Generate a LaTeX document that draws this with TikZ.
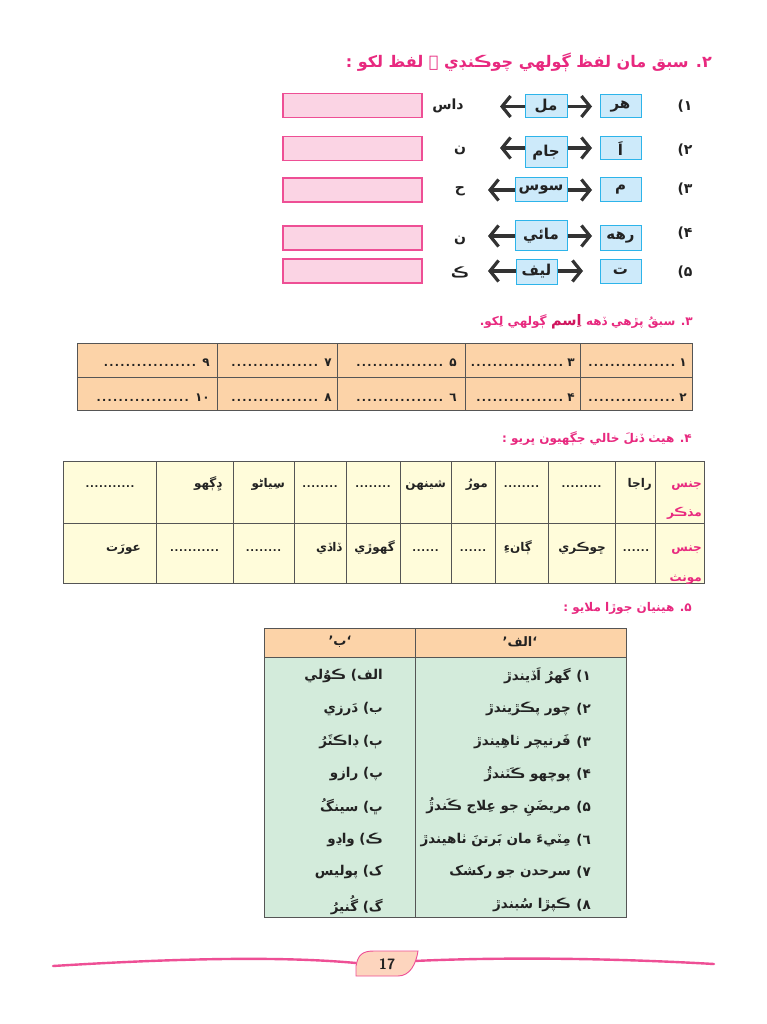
\documentclass[tikz,border=0pt]{standalone}
\usepackage{fontspec}
\usetikzlibrary{arrows.meta}
\TeXXeTstate=1
\newfontfamily\ar[Script=Arabic]{DejaVu Sans}
\newfontfamily\dotfa[LetterSpace=12]{DejaVu Sans Bold}
\newfontfamily\dotfb[LetterSpace=7]{DejaVu Sans Bold}
\newcommand{\rtltext}[1]{\beginR #1\endR}
\definecolor{ttl}{HTML}{E8297F}
\definecolor{ttldark}{HTML}{D0155E}
\definecolor{pinkfill}{HTML}{FBD4E4}
\definecolor{pinkline}{HTML}{EE4F95}
\definecolor{bluefill}{HTML}{CDEAFA}
\definecolor{blueline}{HTML}{2DB4EA}
\definecolor{peach}{HTML}{FCD3A8}
\definecolor{cream}{HTML}{FFFCDA}
\definecolor{mint}{HTML}{D3EBDB}
\definecolor{grid}{HTML}{555555}
\definecolor{ink}{HTML}{222222}
\definecolor{pgfill}{HTML}{FDD5BE}
\begin{document}
\begin{tikzpicture}[x=1pt,y=-1pt,
  ttlbig/.style={font=\ar\bfseries\fontsize{16}{18}\selectfont, text=ttl, anchor=base east, inner sep=0pt},
  ttlsmall/.style={font=\ar\bfseries\fontsize{12}{14}\selectfont, text=ttl, anchor=base east, inner sep=0pt},
  word/.style={font=\ar\bfseries\fontsize{14}{16}\selectfont, text=ink, inner sep=0pt},
  cellw/.style={font=\ar\bfseries\fontsize{12}{14}\selectfont, text=ink, inner sep=0pt, anchor=base east},
  headw/.style={font=\ar\bfseries\fontsize{12}{14}\selectfont, text=ttl, inner sep=0pt, anchor=base east},
  dotsa/.style={font=\dotfa\fontsize{11}{12}\selectfont, text=ink, inner sep=0pt},
  dotsb/.style={font=\dotfb\fontsize{10}{12}\selectfont, text=ink, inner sep=0pt},
  itemw/.style={font=\ar\bfseries\fontsize{13.5}{15}\selectfont, text=ink, inner sep=0pt, anchor=east},
  pinkbox/.style={draw=pinkline, fill=pinkfill, line width=1.2pt, inner sep=0pt, minimum width=139pt, minimum height=24pt},
  bluebox/.style={draw=blueline, fill=bluefill, line width=1pt, inner sep=0pt, text=ink, font=\ar\bfseries\fontsize{15}{17}\selectfont},
  arr/.style={draw=black!80, line width=3.2pt, -{Straight Barb[length=8.5pt,width=21pt]}},
  gridline/.style={draw=grid, line width=0.9pt},
  footline/.style={draw=pinkline, line width=2.4pt, line cap=round}
]
\path[use as bounding box, fill=white] (0,0) rectangle (767,1024);

% ---------- Section 2 ----------
\node[ttlbig] (t2) at (712,68) {\rtltext{۲. سبق مان لفظ ڳولهي چوڪنڊي ۾ لفظ لکو :}};

% row 1
\node[pinkbox] (p1) at (352.5,105.5) {};
\node[word] (l1) at (448,106) {\rtltext{داس}};
\node[bluebox, minimum width=42pt, minimum height=23pt] (m1) at (546,106.5) {\rtltext{مل}};
\node[bluebox, minimum width=41pt, minimum height=23pt] (r1) at (620.5,106.5) {\rtltext{هر}};
\node[word] (n1) at (685,106) {\rtltext{۱)}};
\coordinate (a1l) at (500,106.5); \coordinate (a1r) at (592,106.5);
\draw[arr] (m1.west) -- (a1l); \draw[arr] (m1.east) -- (a1r);

% row 2
\node[pinkbox] (p2) at (352.5,148.5) {};
\node[word] (l2) at (460,150) {\rtltext{ن}};
\node[bluebox, minimum width=42pt, minimum height=31pt] (m2) at (546,152.5) {\rtltext{جام}};
\node[bluebox, minimum width=41pt, minimum height=23pt] (r2) at (620.5,148.5) {\rtltext{اَ}};
\node[word] (n2) at (685,150) {\rtltext{۲)}};
\coordinate (a2l) at (500,148); \coordinate (a2r) at (592,148);
\draw[arr] (m2.west |- a2l) -- (a2l); \draw[arr] (m2.east |- a2r) -- (a2r);

% row 3
\node[pinkbox] (p3) at (352.5,190) {};
\node[word] (l3) at (460,191) {\rtltext{ح}};
\node[bluebox, minimum width=52pt, minimum height=24pt] (m3) at (541,190) {\rtltext{سوس}};
\node[bluebox, minimum width=41pt, minimum height=24pt] (r3) at (620.5,190) {\rtltext{م}};
\node[word] (n3) at (685,189) {\rtltext{۳)}};
\coordinate (a3l) at (488,190); \coordinate (a3r) at (592,190);
\draw[arr] (m3.west) -- (a3l); \draw[arr] (m3.east) -- (a3r);

% row 4
\node[pinkbox] (p4) at (352.5,238) {};
\node[word] (l4) at (460,240) {\rtltext{ن}};
\node[bluebox, minimum width=52pt, minimum height=29pt] (m4) at (541,235.5) {\rtltext{مائي}};
\node[bluebox, minimum width=41pt, minimum height=24pt] (r4) at (620.5,238) {\rtltext{رهه}};
\node[word] (n4) at (685,233) {\rtltext{۴)}};
\coordinate (a4l) at (488,236); \coordinate (a4r) at (592,236);
\draw[arr] (m4.west |- a4l) -- (a4l); \draw[arr] (m4.east |- a4r) -- (a4r);

% row 5
\node[pinkbox] (p5) at (352.5,271) {};
\node[word] (l5) at (460,272) {\rtltext{ڪ}};
\node[bluebox, minimum width=41pt, minimum height=25pt] (m5) at (536.5,271.5) {\rtltext{ليف}};
\node[bluebox, minimum width=41pt, minimum height=24pt] (r5) at (620.5,271) {\rtltext{ت}};
\node[word] (n5) at (685,272) {\rtltext{۵)}};
\coordinate (a5l) at (488,271); \coordinate (a5r) at (583,271);
\draw[arr] (m5.west |- a5l) -- (a5l); \draw[arr] (m5.east |- a5r) -- (a5r);

% ---------- Section 3 ----------
\node[ttlsmall] (t3a) at (693,325) {\rtltext{۳. سبقُ پڙهي ڏهه}};
\node[ttlsmall, text=ttldark, font=\ar\bfseries\fontsize{14.5}{16}\selectfont] (t3b) at ([xshift=-4pt]t3a.base west) {\rtltext{اِسم}};
\node[ttlsmall] (t3c) at ([xshift=-4pt]t3b.base west) {\rtltext{ڳولهي لِکو.}};

\fill[peach] (77,343) rectangle (692,410);
\draw[gridline] (77,343) rectangle (692,410);
\draw[gridline] (77,377) -- (692,377);
\foreach \xx in {217,337,465,580} \draw[gridline] (\xx,343) -- (\xx,410);

\node[cellw] (q1) at (687,366) {\rtltext{۱}};
\node[dotsa, anchor=base east] (q1d) at ([xshift=-4pt]q1.base west) {................};
\node[cellw] (q3) at (575,366) {\rtltext{۳}};
\node[dotsa, anchor=base east] (q3d) at ([xshift=-4pt]q3.base west) {.................};
\node[cellw] (q5) at (457,366) {\rtltext{۵}};
\node[dotsa, anchor=base east] (q5d) at ([xshift=-6pt]q5.base west) {................};
\node[cellw] (q7) at (332,366) {\rtltext{۷}};
\node[dotsa, anchor=base east] (q7d) at ([xshift=-6pt]q7.base west) {................};
\node[cellw] (q9) at (210,366) {\rtltext{۹}};
\node[dotsa, anchor=base east] (q9d) at ([xshift=-6pt]q9.base west) {.................};

\node[cellw] (q2) at (687,401) {\rtltext{۲}};
\node[dotsa, anchor=base east] (q2d) at ([xshift=-4pt]q2.base west) {................};
\node[cellw] (q4) at (575,401) {\rtltext{۴}};
\node[dotsa, anchor=base east] (q4d) at ([xshift=-4pt]q4.base west) {................};
\node[cellw] (q6) at (457,401) {\rtltext{٦}};
\node[dotsa, anchor=base east] (q6d) at ([xshift=-6pt]q6.base west) {................};
\node[cellw] (q8) at (332,401) {\rtltext{۸}};
\node[dotsa, anchor=base east] (q8d) at ([xshift=-6pt]q8.base west) {................};
\node[cellw] (q10) at (210,401) {\rtltext{۱۰}};
\node[dotsa, anchor=base east] (q10d) at ([xshift=-6pt]q10.base west) {.................};

% ---------- Section 4 ----------
\node[ttlsmall] (t4) at (692,442) {\rtltext{۴. هيٺ ڏنلَ خالي جڳهيون ڀريو :}};

\fill[cream] (63,461) rectangle (704,583);
\draw[gridline] (63,461) rectangle (704,583);
\draw[gridline] (63,523) -- (704,523);
\foreach \xx in {156,233,294,346,400,451,495,548,615,655} \draw[gridline] (\xx,461) -- (\xx,583);

\node[headw] (h1) at (702,487) {\rtltext{جنس}};
\node[headw] (h2) at (702,516) {\rtltext{مذڪر}};
\node[headw] (h3) at (702,551) {\rtltext{جنس}};
\node[headw] (h4) at (702,581) {\rtltext{مونث}};

% row 1
\node[cellw] (u1) at (652,487) {\rtltext{راجا}};
\node[dotsb, anchor=base] (u2) at (581.5,487) {.........};
\node[dotsb, anchor=base] (u3) at (521.5,487) {........};
\node[cellw] (u4) at (488,487) {\rtltext{مورُ}};
\node[cellw] (u5) at (446,487) {\rtltext{شينهن}};
\node[dotsb, anchor=base] (u6) at (373,487) {........};
\node[dotsb, anchor=base] (u7) at (320,487) {........};
\node[cellw] (u8) at (285,487) {\rtltext{سِياڻو}};
\node[cellw] (u9) at (222,487) {\rtltext{ڍِڳهو}};
\node[dotsb, anchor=base] (u10) at (110,487) {...........};

% row 2
\node[dotsb, anchor=base] (v1) at (636,551) {......};
\node[cellw] (v2) at (606,551) {\rtltext{ڇوڪري}};
\node[cellw] (v3) at (532,551) {\rtltext{ڳانءِ}};
\node[dotsb, anchor=base] (v4) at (473,551) {......};
\node[dotsb, anchor=base] (v5) at (425.5,551) {......};
\node[cellw] (v6) at (395,551) {\rtltext{گهوڙي}};
\node[cellw] (v7) at (342,551) {\rtltext{ڏاڏي}};
\node[dotsb, anchor=base] (v8) at (263.5,551) {........};
\node[dotsb, anchor=base] (v9) at (194.5,551) {...........};
\node[cellw] (v10) at (141,551) {\rtltext{عورَت}};

% ---------- Section 5 ----------
\node[ttlsmall] (t5) at (692,611) {\rtltext{۵. هينيان جوڙا ملايو :}};

\fill[peach] (264,628) rectangle (626,657);
\fill[mint] (264,657) rectangle (626,917);
\draw[gridline] (264,628) rectangle (626,917);
\draw[gridline] (264,657) -- (626,657);
\draw[gridline] (415,628) -- (415,917);

\node[font=\ar\bfseries\fontsize{13}{15}\selectfont, text=ink, inner sep=0pt] (hb) at (340,642) {\rtltext{‘ب’}};
\node[font=\ar\bfseries\fontsize{13}{15}\selectfont, text=ink, inner sep=0pt] (ha) at (520,642) {\rtltext{‘الف’}};

\node[itemw] (k1) at (591,676) {\rtltext{۱)}};
\node[itemw] (w1) at (571,676) {\rtltext{گهرُ اَڏيندڙ}};
\node[itemw] (k2) at (591,709) {\rtltext{۲)}};
\node[itemw] (w2) at (571,709) {\rtltext{چور پڪڙيندڙ}};
\node[itemw] (k3) at (591,742) {\rtltext{۳)}};
\node[itemw] (w3) at (571,742) {\rtltext{فَرنيچر ٺاهِيندڙ}};
\node[itemw] (k4) at (591,774) {\rtltext{۴)}};
\node[itemw] (w4) at (571,774) {\rtltext{پوچهو ڪَٽندڙُ}};
\node[itemw] (k5) at (591,807) {\rtltext{۵)}};
\node[itemw] (w5) at (571,807) {\rtltext{مريضَنِ جو عِلاج ڪَندڙُ}};
\node[itemw] (k6) at (591,840) {\rtltext{٦)}};
\node[itemw] (w6) at (571,840) {\rtltext{مِٽيءَ مان بَرتنَ ٺاهيندڙ}};
\node[itemw] (k7) at (591,872) {\rtltext{۷)}};
\node[itemw] (w7) at (571,872) {\rtltext{سرحدن جو رکشک}};
\node[itemw] (k8) at (591,905) {\rtltext{۸)}};
\node[itemw] (w8) at (571,905) {\rtltext{ڪپڙا سُبندڙ}};

\node[itemw] (b1) at (383,676) {\rtltext{الف) ڪوُلي}};
\node[itemw] (b2) at (383,709) {\rtltext{ب) دَرزي}};
\node[itemw] (b3) at (383,742) {\rtltext{ٻ) ڊاڪٽَرُ}};
\node[itemw] (b4) at (383,774) {\rtltext{پ) رازو}};
\node[itemw] (b5) at (383,807) {\rtltext{ڀ) سينگُ}};
\node[itemw] (b6) at (383,840) {\rtltext{ڪ) واڍو}};
\node[itemw] (b7) at (383,872) {\rtltext{ک) پوليس}};
\node[itemw] (b8) at (383,905) {\rtltext{گ) گُنيرُ}};

% ---------- Footer ----------
\draw[footline] (53,966) .. controls (150,960) and (270,955) .. (356,963);
\draw[footline] (414,961) .. controls (500,957) and (610,958) .. (714,964);
\filldraw[fill=pgfill, draw=pinkline, line width=0.9pt] (356,976) -- (356,966) .. controls (358,955) and (362,951) .. (374,951) -- (418,951) .. controls (416,964) and (410,976) .. (398,976) -- cycle;
\node[font=\sffamily\bfseries\fontsize{15}{15}\selectfont, text=ink, inner sep=0pt] (pg) at (387,964) {17};
\end{tikzpicture}
\end{document}
